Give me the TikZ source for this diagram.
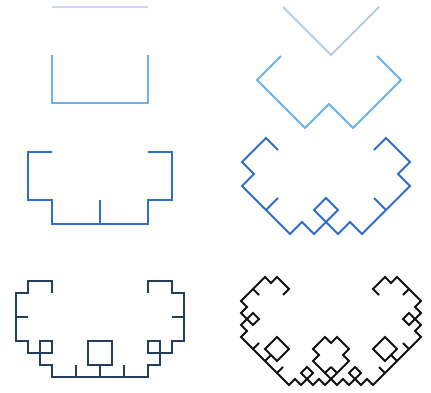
\documentclass[tikz,border=0pt]{standalone}
\usetikzlibrary{lindenmayersystems}
\definecolor{lvlA}{HTML}{C6D6F4}
\definecolor{lvlAs}{HTML}{B4CCE2}
\definecolor{lvlB}{HTML}{6AB2EE}
\definecolor{lvlC}{HTML}{2F6ECC}
\definecolor{lvlD}{HTML}{22405E}
\definecolor{lvlDs}{HTML}{111111}
\pgfdeclarelindenmayersystem{box curve}{
  \rule{F -> -F+FF+F-}
}
\pgfdeclarelindenmayersystem{slant curve}{
  \rule{F -> --F++FF++F--}
}

\begin{document}
\begin{tikzpicture}[
  curve/.style={line width=2pt, line join=miter, line cap=butt}
]
  \useasboundingbox (0,0) rectangle (431pt,392pt);
  % left column: square generator
  \foreach \n/\y/\col in {0/385/lvlA, 1/337/lvlB, 2/240/lvlC, 3/99/lvlD} {
    \pgfmathsetmacro\len{96/2^\n}
    \coordinate (box\n) at (52pt,\y pt);
    \draw[curve, draw=\col, shift={(box\n)},
      lindenmayer system={box curve, axiom=F, order=\n, step=\len pt, angle=90}]
      lindenmayer system;
  }
  % right column: same rule, tilted start
  \foreach \n/\x/\y/\col in {0/283/385/lvlAs, 1/281/336/lvlB, 2/278/242/lvlC, 3/283/97/lvlDs} {
    \pgfmathsetmacro\len{67.88/2^\n}
    \coordinate (slant\n) at (\x pt,\y pt);
    \draw[curve, draw=\col, shift={(slant\n)},
      lindenmayer system={slant curve, axiom=-F++F, order=\n, step=\len pt, angle=45}]
      lindenmayer system;
  }
\end{tikzpicture}
\end{document}
